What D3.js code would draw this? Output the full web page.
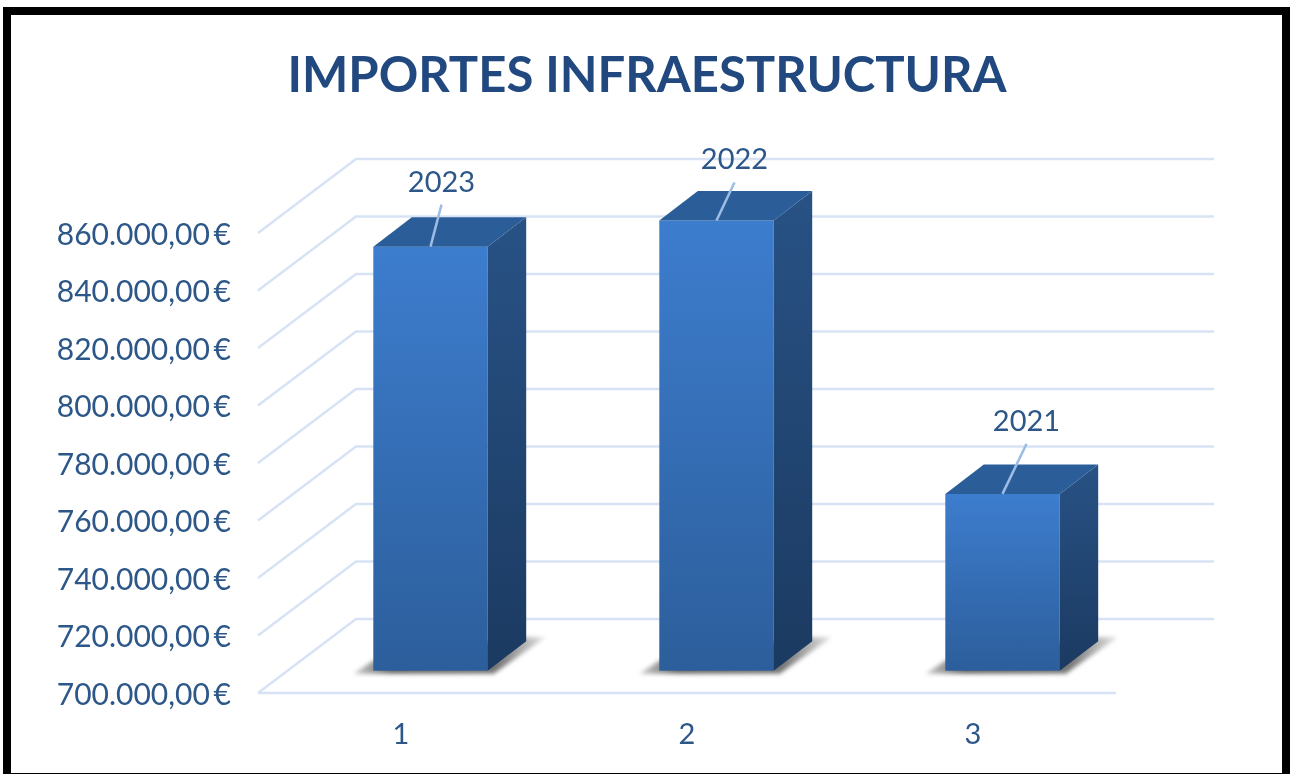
<!DOCTYPE html>
<html>
<head>
<meta charset="utf-8">
<script src="https://cdn.jsdelivr.net/npm/d3@7"></script>
<style>
  html, body { margin: 0; padding: 0; background: #fff; overflow: hidden; }
  text { font-family: Lato, "Open Sans", sans-serif; }
  svg { filter: blur(0.5px); }
  .domain { display: none; }
</style>
</head>
<body>
<div id="app"></div>
<script>
let chartTitle = 'IMPORTES INFRAESTRUCTURA';
let categories = ['1', '2', '3'];
let years = ['2023', '2022', '2021'];
let amounts = [847500, 856600, 761500];
let yTicks = [700000, 720000, 740000, 760000, 780000, 800000, 820000, 840000, 860000];

let svgWidth = 1290;
let svgHeight = 774;

// the 3d box: wall depth and how far into it the bars stand
let wallDx = 98, wallDy = 74;
let barDx = 29.5, barDy = 22.3;
let depthDx = 38.5, depthDy = 29.5;

// leader line of each data label, from the front top edge of the bar
let leaderDx = [11, 18, 24];
let leaderDy = [-42, -38, -50];

let svg = d3.select('#app').append('svg')
    .attr('width', svgWidth)
    .attr('height', svgHeight);

let defs = svg.append('defs');

let frontGrad = defs.append('linearGradient').attr('id', 'front').attr('x1', 0).attr('y1', 0).attr('x2', 0).attr('y2', 1);
frontGrad.append('stop').attr('offset', '0%').attr('stop-color', '#3d7dce');
frontGrad.append('stop').attr('offset', '100%').attr('stop-color', '#2c5e9b');

let sideGrad = defs.append('linearGradient').attr('id', 'side').attr('x1', 0).attr('y1', 0).attr('x2', 0).attr('y2', 1);
sideGrad.append('stop').attr('offset', '0%').attr('stop-color', '#285285');
sideGrad.append('stop').attr('offset', '100%').attr('stop-color', '#1b3a61');

let shadowGrad = defs.append('linearGradient').attr('id', 'shadow').attr('x1', 0).attr('y1', 0).attr('x2', 1).attr('y2', 0);
shadowGrad.append('stop').attr('offset', '0%').attr('stop-color', '#ccc');
shadowGrad.append('stop').attr('offset', '20%').attr('stop-color', '#666');
shadowGrad.append('stop').attr('offset', '75%').attr('stop-color', '#777');
shadowGrad.append('stop').attr('offset', '100%').attr('stop-color', '#e4e4e4');

defs.append('filter').attr('id', 'soft')
    .attr('x', '-20%').attr('y', '-20%').attr('width', '140%').attr('height', '140%')
    .append('feGaussianBlur').attr('stdDeviation', 2);

// frame
svg.append('rect')
    .attr('x', 7).attr('y', 11)
    .attr('width', svgWidth + 20).attr('height', 766)
    .attr('fill', '#fff')
    .attr('stroke', '#000')
    .attr('stroke-width', 8);

svg.append('rect')
    .attr('x', 1282).attr('y', 7)
    .attr('width', 8).attr('height', svgHeight - 7)
    .attr('fill', '#000');

svg.append('text')
    .attr('x', 647)
    .attr('y', 92)
    .attr('text-anchor', 'middle')
    .attr('font-size', 49)
    .attr('font-weight', 700)
    .attr('fill', '#21497f')
    .text(chartTitle);

let y = d3.scaleLinear().domain([700000, 860000]).range([693, 233]);
let x = d3.scaleBand().domain(categories).range([258, 1116]).paddingInner(0.6).paddingOuter(0.3);

// gridlines: left wall, back wall, front edge of the floor
let grid = svg.append('g').attr('stroke', '#d7e3f5').attr('stroke-width', 2.5).attr('fill', 'none');

grid.selectAll('polyline')
    .data(yTicks)
    .enter().append('polyline')
    .attr('points', d => `${x.range()[0]},${y(d)} ${x.range()[0] + wallDx},${y(d) - wallDy} ${x.range()[1] + wallDx},${y(d) - wallDy}`);

grid.append('line')
    .attr('x1', x.range()[0]).attr('y1', y(700000))
    .attr('x2', x.range()[1]).attr('y2', y(700000));

let locale = d3.formatLocale({decimal: ',', thousands: '.', grouping: [3], currency: ['', '\u2009€']});

let yAxis = d3.axisLeft(y)
    .tickValues(yTicks)
    .tickSize(0)
    .tickPadding(27)
    .tickFormat(locale.format('$,.2f'));

svg.append('g')
    .attr('transform', `translate(${x.range()[0]},0)`)
    .call(yAxis)
    .call(g => g.selectAll('text').attr('font-size', 30).attr('dy', '0.38em').attr('fill', '#2c5788'))
    .attr('font-family', null);

let xAxis = d3.axisBottom(x).tickSize(0).tickPadding(30);

svg.append('g')
    .attr('transform', `translate(0,${y(700000)})`)
    .call(xAxis)
    .call(g => g.selectAll('text').attr('font-size', 29).attr('fill', '#2c5788'))
    .attr('font-family', null);

let bars = svg.selectAll('.bar')
    .data(categories.map((c, i) => ({cat: c, year: years[i], value: amounts[i], i: i})))
    .enter().append('g')
    .attr('class', 'bar');

let barLeft = d => x(d.cat) + barDx;
let barRight = d => barLeft(d) + x.bandwidth();
let barBase = y(700000) - barDy;
let barTop = d => y(d.value) - barDy;

function poly(pts) {
    return pts.map(p => p.join(',')).join(' ');
}

// shadow on the floor
bars.append('polygon')
    .attr('fill', 'url(#shadow)')
    .attr('filter', 'url(#soft)')
    .attr('points', d => poly([
        [barLeft(d) - 20, barBase + 3],
        [barRight(d) + 6, barBase + 3],
        [barRight(d) + 58, barBase - depthDy - 4],
        [barRight(d) + 30, barBase - depthDy - 4],
        [barLeft(d), barBase - 10]
    ]));

bars.append('rect')
    .attr('x', barLeft)
    .attr('y', barTop)
    .attr('width', x.bandwidth())
    .attr('height', d => barBase - barTop(d))
    .attr('fill', 'url(#front)');

bars.append('polygon')
    .attr('fill', 'url(#side)')
    .attr('points', d => poly([
        [barRight(d), barTop(d)],
        [barRight(d) + depthDx, barTop(d) - depthDy],
        [barRight(d) + depthDx, barBase - depthDy],
        [barRight(d), barBase]
    ]));

bars.append('polygon')
    .attr('fill', '#2b5e99')
    .attr('points', d => poly([
        [barLeft(d), barTop(d)],
        [barLeft(d) + depthDx, barTop(d) - depthDy],
        [barRight(d) + depthDx, barTop(d) - depthDy],
        [barRight(d), barTop(d)]
    ]));

let labelX = d => barLeft(d) + x.bandwidth() / 2 + leaderDx[d.i];
let labelY = d => barTop(d) + leaderDy[d.i];

bars.append('line')
    .attr('x1', d => barLeft(d) + x.bandwidth() / 2)
    .attr('y1', barTop)
    .attr('x2', labelX)
    .attr('y2', labelY)
    .attr('stroke', '#9dbde6')
    .attr('stroke-width', 2.5);

bars.append('text')
    .attr('x', labelX)
    .attr('y', d => labelY(d) - 13)
    .attr('text-anchor', 'middle')
    .attr('font-size', 29)
    .attr('fill', '#2c5788')
    .text(d => d.year);
</script>
</body>
</html>
